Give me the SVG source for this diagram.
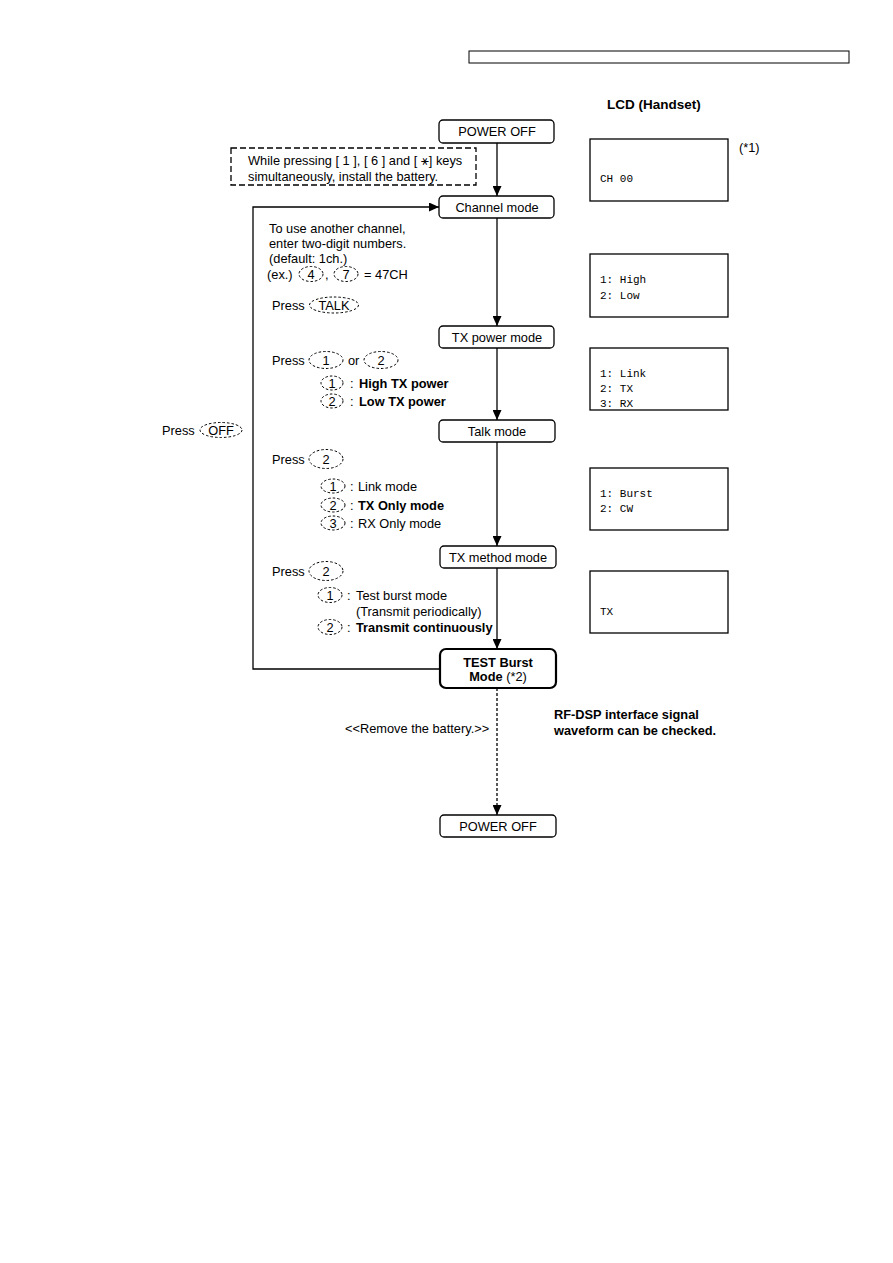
<svg xmlns="http://www.w3.org/2000/svg" width="893" height="1263" viewBox="0 0 893 1263">
<style>
text{font-family:"Liberation Sans",Arial,sans-serif;font-size:12.8px;fill:#000}
.b{font-weight:bold}
.m{text-anchor:middle}
.mono{font-family:"Liberation Mono","Courier New",monospace;font-size:11px}
.box{fill:#fff;stroke:#000;stroke-width:1.3}
.lcd{fill:#fff;stroke:#000;stroke-width:1.3}
.key{fill:none;stroke:#000;stroke-width:1;stroke-dasharray:2.5,2}
.ln{fill:none;stroke:#000;stroke-width:1.3}
</style>
<defs>
<marker id="ah" markerUnits="userSpaceOnUse" markerWidth="10" markerHeight="9" refX="10" refY="4.5" orient="auto">
<path d="M0,0 L10,4.5 L0,9 z" fill="#000"/>
</marker>
</defs>
<rect width="893" height="1263" fill="#fff"/>
<rect x="469" y="51" width="380" height="12" fill="none" stroke="#000" stroke-width="1"/>
<text x="607" y="109" class="b" style="font-size:13.5px">LCD (Handset)</text>

<g id="connectors">
<line class="ln" x1="497" y1="143" x2="497" y2="196" marker-end="url(#ah)"/>
<line class="ln" x1="497" y1="218" x2="497" y2="326" marker-end="url(#ah)"/>
<line class="ln" x1="497" y1="348" x2="497" y2="420" marker-end="url(#ah)"/>
<line class="ln" x1="497" y1="442" x2="497" y2="546" marker-end="url(#ah)"/>
<line class="ln" x1="497" y1="568" x2="497" y2="649" marker-end="url(#ah)"/>
<line class="ln" x1="497" y1="688" x2="497" y2="815" stroke-dasharray="3,2" marker-end="url(#ah)"/>
<polyline class="ln" points="440,669 253,669 253,207 439,207" marker-end="url(#ah)"/>
</g>

<g id="power-off-1"><rect class="box" x="439" y="120" width="115" height="23" rx="4"/><text x="497" y="136" class="m">POWER OFF</text></g>
<g id="install-note">
<rect x="231" y="148" width="245" height="37" fill="none" stroke="#000" stroke-width="1.3" stroke-dasharray="6,3"/>
<text x="248" y="165">While pressing [ 1 ], [ 6 ] and [ ⚹] keys</text>
<text x="248" y="181">simultaneously, install the battery.</text>
</g>
<g id="channel-mode"><rect class="box" x="439" y="196" width="115" height="22" rx="4"/><text x="497" y="212" class="m">Channel mode</text></g>
<g id="channel-note">
<text x="269" y="233">To use another channel,</text>
<text x="269" y="248">enter two-digit numbers.</text>
<text x="269" y="263">(default: 1ch.)</text>
<text x="267" y="279">(ex.)</text>
<ellipse class="key" cx="311" cy="274" rx="12" ry="7.5"/><text x="311" y="279" class="m">4</text>
<text x="325" y="279">,</text>
<ellipse class="key" cx="346" cy="274" rx="12" ry="7.5"/><text x="346" y="279" class="m">7</text>
<text x="364" y="279">= 47CH</text>
<text x="272" y="310">Press</text>
<ellipse class="key" cx="334" cy="305" rx="24.5" ry="8"/><text x="334" y="310" class="m">TALK</text>
</g>
<g id="tx-power-mode"><rect class="box" x="439" y="326" width="115" height="22" rx="4"/><text x="497" y="342" class="m">TX power mode</text></g>
<g id="tx-power-note">
<text x="272" y="365">Press</text>
<ellipse class="key" cx="326" cy="360" rx="17" ry="8.5"/><text x="326" y="365" class="m">1</text>
<text x="348" y="365">or</text>
<ellipse class="key" cx="381" cy="360" rx="17" ry="8.5"/><text x="381" y="365" class="m">2</text>
<ellipse class="key" cx="332" cy="383" rx="11" ry="7"/><text x="332" y="388" class="m">1</text>
<text x="350" y="388">:</text><text x="359" y="388" class="b">High TX power</text>
<ellipse class="key" cx="332" cy="401" rx="11" ry="7"/><text x="332" y="406" class="m">2</text>
<text x="350" y="406">:</text><text x="359" y="406" class="b">Low TX power</text>
</g>
<g id="off-note">
<text x="162" y="435">Press</text>
<ellipse class="key" cx="221" cy="430" rx="21" ry="7.5"/><text x="221" y="435" class="m">OFF</text>
</g>
<g id="talk-mode"><rect class="box" x="439" y="420" width="116" height="22" rx="4"/><text x="497" y="436" class="m">Talk mode</text></g>
<g id="talk-note">
<text x="272" y="464">Press</text>
<ellipse class="key" cx="326" cy="459" rx="17" ry="9.5"/><text x="326" y="464" class="m">2</text>
<ellipse class="key" cx="333" cy="486" rx="12" ry="7"/><text x="333" y="491" class="m">1</text>
<text x="350" y="491">:</text><text x="358" y="491">Link mode</text>
<ellipse class="key" cx="333" cy="505" rx="12" ry="7"/><text x="333" y="510" class="m">2</text>
<text x="350" y="510">:</text><text x="358" y="510" class="b">TX Only mode</text>
<ellipse class="key" cx="333" cy="523" rx="12" ry="7"/><text x="333" y="528" class="m">3</text>
<text x="350" y="528">:</text><text x="358" y="528">RX Only mode</text>
</g>
<g id="tx-method-mode"><rect class="box" x="440" y="546" width="116" height="22" rx="4"/><text x="498" y="562" class="m">TX method mode</text></g>
<g id="tx-method-note">
<text x="272" y="576">Press</text>
<ellipse class="key" cx="326" cy="571" rx="17" ry="9.5"/><text x="326" y="576" class="m">2</text>
<ellipse class="key" cx="330" cy="595" rx="12" ry="7.5"/><text x="330" y="600" class="m">1</text>
<text x="347" y="600">:</text><text x="356" y="600">Test burst mode</text>
<text x="356" y="616">(Transmit periodically)</text>
<ellipse class="key" cx="330" cy="627" rx="12" ry="7.5"/><text x="330" y="632" class="m">2</text>
<text x="347" y="632">:</text><text x="356" y="632" class="b">Transmit continuously</text>
</g>
<g id="test-burst-mode">
<rect x="440" y="649" width="116" height="39" rx="6" fill="#fff" stroke="#000" stroke-width="2.2"/>
<text x="498" y="667" class="m b">TEST Burst</text>
<text x="498" y="681" class="m"><tspan class="b">Mode</tspan> (*2)</text>
</g>
<g id="remove-note"><text x="345" y="733">&lt;&lt;Remove the battery.&gt;&gt;</text></g>
<g id="rfdsp-note">
<text x="554" y="719" class="b">RF-DSP interface signal</text>
<text x="554" y="735" class="b">waveform can be checked.</text>
</g>
<g id="power-off-2"><rect class="box" x="440" y="815" width="116" height="22" rx="4"/><text x="498" y="831" class="m">POWER OFF</text></g>

<g id="lcd-1"><rect class="lcd" x="590" y="139" width="138" height="62"/><text x="600" y="182" class="mono">CH 00</text><text x="739" y="152">(*1)</text></g>
<g id="lcd-2"><rect class="lcd" x="590" y="254" width="138" height="63"/><text x="600" y="283" class="mono">1: High</text><text x="600" y="299" class="mono">2: Low</text></g>
<g id="lcd-3"><rect class="lcd" x="590" y="348" width="138" height="62"/><text x="600" y="377" class="mono">1: Link</text><text x="600" y="392" class="mono">2: TX</text><text x="600" y="407" class="mono">3: RX</text></g>
<g id="lcd-4"><rect class="lcd" x="590" y="468" width="138" height="62"/><text x="600" y="497" class="mono">1: Burst</text><text x="600" y="512" class="mono">2: CW</text></g>
<g id="lcd-5"><rect class="lcd" x="590" y="571" width="138" height="62"/><text x="600" y="615" class="mono">TX</text></g>
</svg>
